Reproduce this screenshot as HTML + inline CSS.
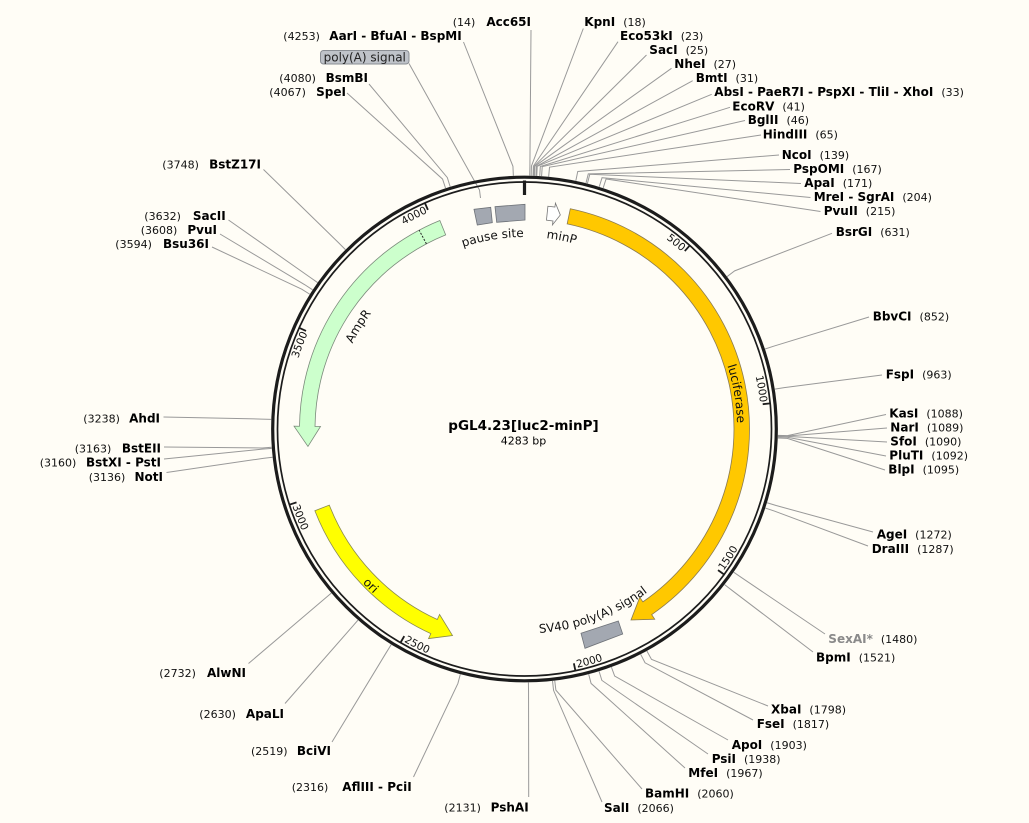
<!DOCTYPE html>
<html><head><meta charset="utf-8">
<style>
html,body{margin:0;padding:0;background:#fffdf6;}
svg{display:block;}
text{font-family:"DejaVu Sans","Liberation Sans",sans-serif;fill:#000;}
.b{font-size:12px;font-weight:bold;}
.n{font-size:11px;font-weight:normal;fill:#111;}
.t{font-size:10.5px;fill:#111;}
.f{font-size:12px;fill:#111;}
.ln{fill:none;stroke:#999;stroke-width:1;}
</style></head>
<body>
<svg width="1029" height="823" viewBox="0 0 1029 823" xmlns="http://www.w3.org/2000/svg">
<rect width="1029" height="823" fill="#fffdf6"/>
<defs>
<path id="cw237" d="M524.5 192 A237 237 0 1 1 524.5 666 A237 237 0 1 1 524.5 192"/>
<path id="ccw244" d="M524.5 184.5 A244.5 244.5 0 1 0 524.5 673.5 A244.5 244.5 0 1 0 524.5 184.5"/>
<path id="cw212" d="M524.5 216.5 A212.5 212.5 0 1 1 524.5 641.5 A212.5 212.5 0 1 1 524.5 216.5"/>
<path id="cw192" d="M524.5 237 A192 192 0 1 1 524.5 621 A192 192 0 1 1 524.5 237"/>
<path id="ccw223" d="M524.5 205.7 A223.3 223.3 0 1 0 524.5 652.3 A223.3 223.3 0 1 0 524.5 205.7"/>
<path id="ccw204" d="M524.5 224.5 A204.5 204.5 0 1 0 524.5 633.5 A204.5 204.5 0 1 0 524.5 224.5"/>
</defs>

<g class="ln">
<polyline points="529.71,175.55 529.90,166.10 531,30"/>
<polyline points="531.19,175.59 531.44,166.09 583.3,28.5"/>
<polyline points="533.05,175.64 533.37,166.15 618,41.7"/>
<polyline points="533.80,175.67 534.14,166.18 646.5,55"/>
<polyline points="534.54,175.70 534.91,166.20 671.5,68.3"/>
<polyline points="536.03,175.76 536.46,166.27 692.7,80.7"/>
<polyline points="536.77,175.80 537.23,166.31 711.7,94.3"/>
<polyline points="539.74,175.96 540.31,166.48 730,107.3"/>
<polyline points="541.59,176.08 542.23,166.60 745,120.5"/>
<polyline points="548.64,176.65 549.54,167.19 761,135"/>
<polyline points="575.83,180.75 577.76,171.45 779,155"/>
<polyline points="585.98,183.07 588.29,173.85 790,169.5"/>
<polyline points="587.43,183.43 589.79,174.23 801,183.5"/>
<polyline points="599.24,186.77 602.04,177.69 810.5,197.5"/>
<polyline points="603.14,188.01 606.08,178.97 820.5,211.5"/>
<polyline points="727.06,276.59 734.66,270.87 832,233.3"/>
<polyline points="765.05,349.03 774.07,346.04 869,317"/>
<polyline points="774.84,389.09 784.22,387.59 882,375"/>
<polyline points="777.92,435.41 787.42,435.65 886,414.5"/>
<polyline points="777.91,435.79 787.41,436.04 887,428"/>
<polyline points="777.90,436.16 787.39,436.43 887,442"/>
<polyline points="777.88,436.90 787.37,437.20 886,456"/>
<polyline points="777.84,438.01 787.33,438.35 885,470"/>
<polyline points="767.04,502.76 776.13,505.53 873,532"/>
<polyline points="765.35,508.08 774.38,511.05 868,546"/>
<polyline points="733.66,572.22 741.49,577.59 825,634"/>
<polyline points="724.60,584.59 732.10,590.42 813,652"/>
<polyline points="646.90,650.99 651.49,659.31 768,706"/>
<polyline points="640.68,654.31 645.03,662.76 753,720"/>
<polyline points="611.40,667.14 614.66,676.06 728,740"/>
<polyline points="599.06,671.29 601.86,680.36 708,754"/>
<polyline points="588.69,674.24 591.09,683.43 685,768"/>
<polyline points="554.74,680.69 555.87,690.12 642,789"/>
<polyline points="552.52,680.95 553.57,690.39 602,802"/>
<polyline points="528.41,682.47 528.55,691.97 528.7,797"/>
<polyline points="460.31,674.24 457.91,683.43 413.5,777"/>
<polyline points="391.19,644.62 386.20,652.70 332,742"/>
<polyline points="357.97,620.13 351.73,627.29 285,703.5"/>
<polyline points="331.28,593.11 324.04,599.26 248.5,663.5"/>
<polyline points="272.57,457.30 263.14,458.36 166.5,472.5"/>
<polyline points="271.75,448.41 262.27,449.14 164,459"/>
<polyline points="271.66,447.30 262.18,447.99 164,447"/>
<polyline points="271.18,419.43 261.69,419.07 163.5,417"/>
<polyline points="309.79,294.24 301.74,289.18 212,247"/>
<polyline points="312.60,289.85 304.66,284.64 220,234"/>
<polyline points="317.55,282.59 309.80,277.11 228.5,220"/>
<polyline points="345.41,249.59 338.70,242.86 263.5,169.5"/>
<polyline points="445.53,188.11 442.57,179.09 347,93"/>
<polyline points="450.13,186.66 447.34,177.57 369,84"/>
<polyline points="513.35,175.75 512.93,166.26 463.5,42"/>
<polyline points="480.5,198 479.5,190 409,63.5"/>
</g>

<circle cx="524.5" cy="429" r="251.8" fill="none" stroke="#1c1c1c" stroke-width="3.2"/>
<circle cx="524.5" cy="429" r="247" fill="none" stroke="#1c1c1c" stroke-width="1.7"/>

<g stroke="#1c1c1c" stroke-width="1.8">
<line x1="689.80" y1="245.46" x2="684.78" y2="251.04"/>
<line x1="770.17" y1="403.41" x2="762.71" y2="404.19"/>
<line x1="724.08" y1="574.52" x2="718.02" y2="570.10"/>
<line x1="575.40" y1="670.70" x2="573.86" y2="663.36"/>
<line x1="400.50" y1="642.62" x2="404.27" y2="636.13"/>
<line x1="289.38" y1="504.67" x2="296.52" y2="502.38"/>
<line x1="299.17" y1="327.81" x2="306.02" y2="330.89"/>
<line x1="424.88" y1="202.98" x2="427.91" y2="209.84"/>
</g>
<line x1="524.5" y1="180.5" x2="524.5" y2="195" stroke="#1c1c1c" stroke-width="3.2"/>

<text class="t"><textPath href="#cw237" startOffset="171.77" text-anchor="end">500</textPath></text>
<text class="t"><textPath href="#cw237" startOffset="345.61" text-anchor="end">1000</textPath></text>
<text class="t"><textPath href="#cw237" startOffset="1214.81" text-anchor="end">3500</textPath></text>
<text class="t"><textPath href="#cw237" startOffset="1388.65" text-anchor="end">4000</textPath></text>
<text class="t"><textPath href="#ccw244" startOffset="1000.35">1500</textPath></text>
<text class="t"><textPath href="#ccw244" startOffset="821.01">2000</textPath></text>
<text class="t"><textPath href="#ccw244" startOffset="641.67">2500</textPath></text>
<text class="t"><textPath href="#ccw244" startOffset="462.32">3000</textPath></text>

<path d="M570.32 208.71 A225 225 0 0 1 651.62 614.65 L654.73 619.19 L631 620 L639.75 597.32 L642.86 601.86 A209.5 209.5 0 0 0 567.16 223.89 Z" fill="#ffc800" stroke="#8a7a50" stroke-width="0.8"/>
<path d="M439.85 220.53 A225 225 0 0 0 299.52 426.25 L294.02 426.18 L307.95 446.42 L320.51 426.51 L315.01 426.44 A209.5 209.5 0 0 1 445.68 234.89 Z" fill="#ccffcc" stroke="#7a8a7a" stroke-width="0.8"/>
<line x1="426.43" y1="243.87" x2="419.17" y2="230.18" stroke="#222" stroke-width="1" stroke-dasharray="2,1.5"/>
<path d="M314.87 510.73 A225 225 0 0 0 430.84 633.58 L428.55 638.58 L452.5 635.5 L439.58 614.48 L437.29 619.49 A209.5 209.5 0 0 1 329.31 505.10 Z" fill="#ffff00" stroke="#8a8a50" stroke-width="0.8"/>
<polygon points="581,633.3 618.3,621 622.7,634 585,648.3" fill="#a3a8b1" stroke="#6e7278" stroke-width="0.8"/>
<polygon points="474,209.3 490.7,207.3 492.3,222.7 477.3,225" fill="#a3a8b1" stroke="#6e7278" stroke-width="0.8"/>
<polygon points="495,206.7 525,204.3 525,220 496.7,222.3" fill="#a3a8b1" stroke="#6e7278" stroke-width="0.8"/>
<polygon points="547.91,206.23 554.90,207.07 555.44,203.11 560.32,214.98 552.46,224.91 553.00,220.94 546.45,220.15" fill="#ffffff" stroke="#777" stroke-width="0.8"/>

<text class="f"><textPath href="#cw212" startOffset="298.56" text-anchor="middle">luciferase</textPath></text>
<text class="f"><textPath href="#cw192" startOffset="1010.6" text-anchor="middle">AmpR</textPath></text>
<text class="f"><textPath href="#cw192" startOffset="1174.2" text-anchor="middle">pause site</textPath></text>
<text class="f"><textPath href="#cw192" startOffset="36.86" text-anchor="middle">minP</textPath></text>
<text class="f"><textPath href="#ccw223" startOffset="528.1" text-anchor="middle">ori</textPath></text>
<text class="f"><textPath href="#ccw204" startOffset="715.6" text-anchor="middle">SV40 poly(A) signal</textPath></text>

<rect x="320.5" y="50.5" width="88.5" height="13.5" rx="3" fill="#bfc3c9" stroke="#8a8e94" stroke-width="1"/>
<text class="f" x="364.75" y="61.3" text-anchor="middle" style="fill:#222">poly(A) signal</text>

<text x="523.5" y="430" text-anchor="middle" style="font-size:13.5px;font-weight:bold">pGL4.23[luc2-minP]</text>
<text x="523.5" y="444.5" text-anchor="middle" style="font-size:11px">4283 bp</text>

<g>
<text x="584.3" y="26.1"><tspan class="b">KpnI</tspan><tspan class="n" dx="8">(18)</tspan></text>
<text x="620" y="40.1"><tspan class="b">Eco53kI</tspan><tspan class="n" dx="8">(23)</tspan></text>
<text x="649.3" y="54.1"><tspan class="b">SacI</tspan><tspan class="n" dx="8">(25)</tspan></text>
<text x="674.3" y="68.1"><tspan class="b">NheI</tspan><tspan class="n" dx="8">(27)</tspan></text>
<text x="695.7" y="82.1"><tspan class="b">BmtI</tspan><tspan class="n" dx="8">(31)</tspan></text>
<text x="714.3" y="96.1"><tspan class="b">AbsI - PaeR7I - PspXI - TliI - XhoI</tspan><tspan class="n" dx="8">(33)</tspan></text>
<text x="732.3" y="110.4"><tspan class="b">EcoRV</tspan><tspan class="n" dx="8">(41)</tspan></text>
<text x="747.7" y="124.1"><tspan class="b">BglII</tspan><tspan class="n" dx="8">(46)</tspan></text>
<text x="762.7" y="138.4"><tspan class="b">HindIII</tspan><tspan class="n" dx="8">(65)</tspan></text>
<text x="781.7" y="159.1"><tspan class="b">NcoI</tspan><tspan class="n" dx="8">(139)</tspan></text>
<text x="793.3" y="173.1"><tspan class="b">PspOMI</tspan><tspan class="n" dx="8">(167)</tspan></text>
<text x="804.3" y="187.1"><tspan class="b">ApaI</tspan><tspan class="n" dx="8">(171)</tspan></text>
<text x="813.7" y="201.1"><tspan class="b">MreI - SgrAI</tspan><tspan class="n" dx="8">(204)</tspan></text>
<text x="823.7" y="215.1"><tspan class="b">PvuII</tspan><tspan class="n" dx="8">(215)</tspan></text>
<text x="835.7" y="236.1"><tspan class="b">BsrGI</tspan><tspan class="n" dx="8">(631)</tspan></text>
<text x="872.7" y="320.4"><tspan class="b">BbvCI</tspan><tspan class="n" dx="8">(852)</tspan></text>
<text x="885.7" y="378.7"><tspan class="b">FspI</tspan><tspan class="n" dx="8">(963)</tspan></text>
<text x="889.3" y="417.7"><tspan class="b">KasI</tspan><tspan class="n" dx="8">(1088)</tspan></text>
<text x="890.3" y="431.7"><tspan class="b">NarI</tspan><tspan class="n" dx="8">(1089)</tspan></text>
<text x="890.3" y="445.7"><tspan class="b">SfoI</tspan><tspan class="n" dx="8">(1090)</tspan></text>
<text x="889.3" y="459.7"><tspan class="b">PluTI</tspan><tspan class="n" dx="8">(1092)</tspan></text>
<text x="888.3" y="473.7"><tspan class="b">BlpI</tspan><tspan class="n" dx="8">(1095)</tspan></text>
<text x="876.7" y="538.7"><tspan class="b">AgeI</tspan><tspan class="n" dx="8">(1272)</tspan></text>
<text x="871.7" y="553.1"><tspan class="b">DraIII</tspan><tspan class="n" dx="8">(1287)</tspan></text>
<text x="828.3" y="643.1"><tspan class="b" style="fill:#8a8a8a">SexAI*</tspan><tspan class="n" dx="8">(1480)</tspan></text>
<text x="816" y="661.7"><tspan class="b">BpmI</tspan><tspan class="n" dx="8">(1521)</tspan></text>
<text x="771" y="713.7"><tspan class="b">XbaI</tspan><tspan class="n" dx="8">(1798)</tspan></text>
<text x="756.7" y="728.1"><tspan class="b">FseI</tspan><tspan class="n" dx="8">(1817)</tspan></text>
<text x="731.7" y="749.1"><tspan class="b">ApoI</tspan><tspan class="n" dx="8">(1903)</tspan></text>
<text x="711.7" y="763.1"><tspan class="b">PsiI</tspan><tspan class="n" dx="8">(1938)</tspan></text>
<text x="688.3" y="777.1"><tspan class="b">MfeI</tspan><tspan class="n" dx="8">(1967)</tspan></text>
<text x="645" y="797.7"><tspan class="b">BamHI</tspan><tspan class="n" dx="8">(2060)</tspan></text>
<text x="604" y="812.1"><tspan class="b">SalI</tspan><tspan class="n" dx="8">(2066)</tspan></text>
</g>

<g>
<text class="n" x="452.7" y="26.1">(14)</text><text class="b" x="531" y="26.1" text-anchor="end">Acc65I</text>
<text class="n" x="283.3" y="40.1">(4253)</text><text class="b" x="461.7" y="40.1" text-anchor="end">AarI - BfuAI - BspMI</text>
<text class="n" x="279.3" y="82.1">(4080)</text><text class="b" x="368" y="82.1" text-anchor="end">BsmBI</text>
<text class="n" x="269.3" y="96.1">(4067)</text><text class="b" x="346" y="96.1" text-anchor="end">SpeI</text>
<text class="n" x="162.3" y="168.7">(3748)</text><text class="b" x="261" y="168.7" text-anchor="end">BstZ17I</text>
<text class="n" x="144.3" y="220.1">(3632)</text><text class="b" x="225.7" y="220.1" text-anchor="end">SacII</text>
<text class="n" x="140.7" y="234.1">(3608)</text><text class="b" x="217" y="234.1" text-anchor="end">PvuI</text>
<text class="n" x="115.3" y="248.1">(3594)</text><text class="b" x="209" y="248.1" text-anchor="end">Bsu36I</text>
<text class="n" x="83.3" y="422.7">(3238)</text><text class="b" x="160" y="422.7" text-anchor="end">AhdI</text>
<text class="n" x="74.7" y="452.7">(3163)</text><text class="b" x="161" y="452.7" text-anchor="end">BstEII</text>
<text class="n" x="39.7" y="466.7">(3160)</text><text class="b" x="161" y="466.7" text-anchor="end">BstXI - PstI</text>
<text class="n" x="88.7" y="481.1">(3136)</text><text class="b" x="163" y="481.1" text-anchor="end">NotI</text>
<text class="n" x="159.3" y="677.1">(2732)</text><text class="b" x="246" y="677.1" text-anchor="end">AlwNI</text>
<text class="n" x="199.3" y="718.1">(2630)</text><text class="b" x="284" y="718.1" text-anchor="end">ApaLI</text>
<text class="n" x="251" y="755.1">(2519)</text><text class="b" x="331" y="755.1" text-anchor="end">BciVI</text>
<text class="n" x="291.7" y="791.1">(2316)</text><text class="b" x="411.7" y="791.1" text-anchor="end">AflIII - PciI</text>
<text class="n" x="444.3" y="811.7">(2131)</text><text class="b" x="528.7" y="811.7" text-anchor="end">PshAI</text>
</g>
</svg>
</body></html>
